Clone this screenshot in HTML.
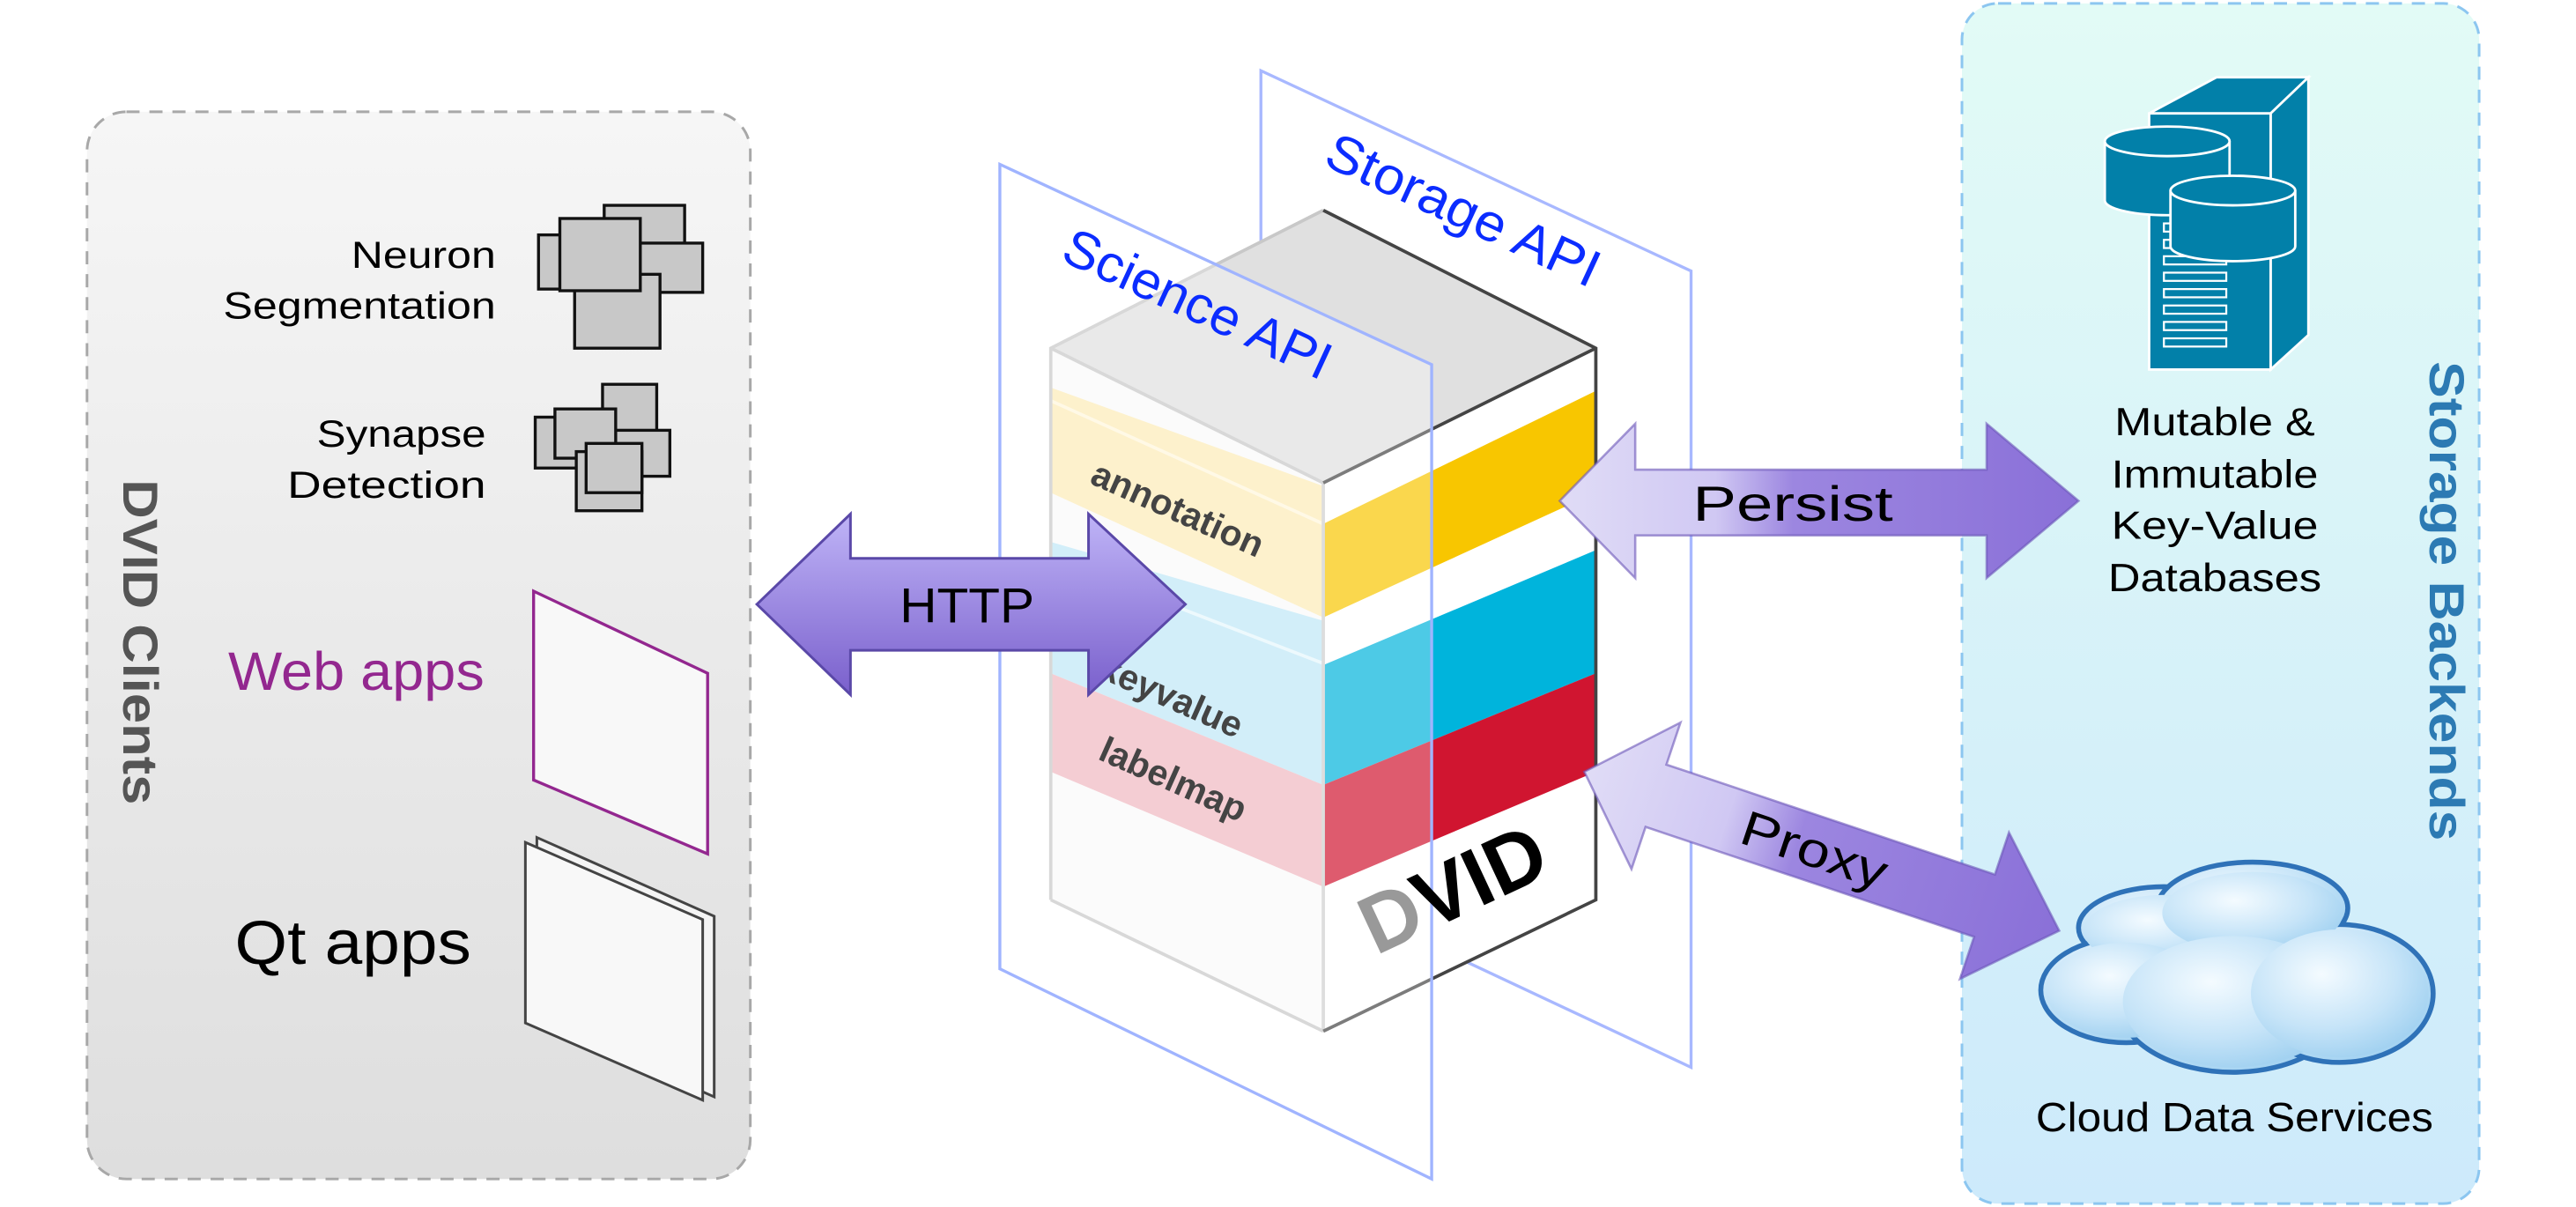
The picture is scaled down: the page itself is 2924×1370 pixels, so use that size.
<!DOCTYPE html>
<html><head><meta charset="utf-8"><style>
html,body{margin:0;padding:0;background:#fff;}
svg{display:block;font-family:"Liberation Sans",Arial,sans-serif;}
</style></head><body>
<svg width="2924" height="1370" viewBox="0 0 1569 735" xmlns="http://www.w3.org/2000/svg">
<defs>
<linearGradient id="gL" x1="0" y1="0" x2="0" y2="1"><stop offset="0" stop-color="#f6f6f6"/><stop offset="1" stop-color="#dedede"/></linearGradient>
<linearGradient id="gR" x1="0" y1="0" x2="0" y2="1"><stop offset="0" stop-color="#e2fbf6"/><stop offset="1" stop-color="#cdeafb"/></linearGradient>
<linearGradient id="gA" x1="0" y1="0" x2="0" y2="1"><stop offset="0" stop-color="#bfb4f7"/><stop offset="1" stop-color="#7a60cc"/></linearGradient>
<linearGradient id="gAf" x1="0" y1="0" x2="1" y2="0"><stop offset="0" stop-color="#e0dcf6"/><stop offset="0.3" stop-color="#d0c8f3"/><stop offset="0.45" stop-color="#9c86e0"/><stop offset="1" stop-color="#8a70d8"/></linearGradient>
<radialGradient id="gC" cx="0.4" cy="0.35" r="0.7"><stop offset="0" stop-color="#f4fbff"/><stop offset="0.6" stop-color="#c6e4f8"/><stop offset="1" stop-color="#9fd0f0"/></radialGradient>
</defs>

<rect x="53" y="68" width="404" height="650" rx="24" fill="url(#gL)" stroke="#a8a8a8" stroke-width="1.6" stroke-dasharray="8,6"/>
<text transform="translate(75,391) rotate(90)" text-anchor="middle" font-size="30" font-weight="bold" fill="#555" textLength="198" lengthAdjust="spacingAndGlyphs">DVID Clients</text>
<text x="302" y="163" text-anchor="end" font-size="23" textLength="88" lengthAdjust="spacingAndGlyphs">Neuron</text>
<text x="302" y="194" text-anchor="end" font-size="23" textLength="166" lengthAdjust="spacingAndGlyphs">Segmentation</text>
<g fill="#c8c8c8" stroke="#111" stroke-width="1.8">
<rect x="368" y="125" width="49" height="40"/>
<rect x="377" y="148" width="51" height="30"/>
<rect x="328" y="143" width="52" height="33"/>
<rect x="350" y="167" width="52" height="45"/>
<rect x="341" y="133" width="49" height="44"/>
</g>
<text x="296" y="272" text-anchor="end" font-size="23" textLength="103" lengthAdjust="spacingAndGlyphs">Synapse</text>
<text x="296" y="303" text-anchor="end" font-size="23" textLength="121" lengthAdjust="spacingAndGlyphs">Detection</text>
<g fill="#c8c8c8" stroke="#111" stroke-width="1.8">
<rect x="367" y="234" width="33" height="30"/>
<rect x="326" y="254" width="30" height="31"/>
<rect x="375" y="262" width="33" height="28"/>
<rect x="338" y="249" width="37" height="30"/>
<rect x="351" y="275" width="40" height="36"/>
<rect x="357" y="270" width="34" height="30"/>
</g>
<text x="295" y="420" text-anchor="end" font-size="33" fill="#93278f" textLength="156" lengthAdjust="spacingAndGlyphs">Web apps</text>
<polygon points="325,360 431,410 431,520 325,475" fill="#f8f8f8" stroke="#93278f" stroke-width="1.8"/>
<text x="287" y="587" text-anchor="end" font-size="38" textLength="144" lengthAdjust="spacingAndGlyphs">Qt apps</text>
<polygon points="327,510 435,558 435,668 327,620" fill="#f4f4f4" stroke="#444" stroke-width="1.6"/>
<polygon points="320,513 428,560 428,670 320,623" fill="#f8f8f8" stroke="#444" stroke-width="1.6"/>

<rect x="1195" y="2" width="315" height="731" rx="22" fill="url(#gR)" stroke="#8cc6f0" stroke-width="1.6" stroke-dasharray="8,6"/>
<text transform="translate(1480,366) rotate(90)" text-anchor="middle" font-size="30" font-weight="bold" fill="#2c7ab3" textLength="292" lengthAdjust="spacingAndGlyphs">Storage Backends</text>
<g fill="#0280a9" stroke="#fff" stroke-width="1.5">
<polygon points="1309,69 1350,47 1406,47 1383,69"/>
<polygon points="1383,69 1406,47 1406,204 1383,225"/>
<rect x="1309" y="69" width="74" height="156"/>
</g>
<g fill="none" stroke="#fff" stroke-width="1.2">
<rect x="1318" y="136" width="38" height="5"/>
<rect x="1318" y="146" width="38" height="5"/>
<rect x="1318" y="156" width="38" height="5"/>
<rect x="1318" y="166" width="38" height="5"/>
<rect x="1318" y="176" width="38" height="5"/>
<rect x="1318" y="186" width="38" height="5"/>
<rect x="1318" y="196" width="38" height="5"/>
<rect x="1318" y="206" width="38" height="5"/>
</g>
<g fill="#0280a9" stroke="#fff" stroke-width="1.5">
<path d="M1282,86 v36 a38,9 0 0 0 76,0 v-36"/>
<ellipse cx="1320" cy="86" rx="38" ry="9"/>
<path d="M1322,116 v34 a38,9 0 0 0 76,0 v-34"/>
<ellipse cx="1360" cy="116" rx="38" ry="9"/>
</g>
<g font-size="24" text-anchor="middle">
<text x="1349" y="265" textLength="122" lengthAdjust="spacingAndGlyphs">Mutable &amp;</text>
<text x="1349" y="297" textLength="126" lengthAdjust="spacingAndGlyphs">Immutable</text>
<text x="1349" y="328" textLength="126" lengthAdjust="spacingAndGlyphs">Key-Value</text>
<text x="1349" y="360" textLength="130" lengthAdjust="spacingAndGlyphs">Databases</text>
</g>
<g fill="url(#gC)" stroke="#2f72b8" stroke-width="3">
<ellipse cx="1318" cy="565" rx="52" ry="25"/>
<ellipse cx="1372" cy="553" rx="58" ry="28"/>
<ellipse cx="1295" cy="603" rx="52" ry="32"/>
<ellipse cx="1360" cy="610" rx="70" ry="43"/>
<ellipse cx="1425" cy="605" rx="57" ry="42"/>
</g>
<g fill="url(#gC)">
<ellipse cx="1318" cy="567" rx="49" ry="22"/>
<ellipse cx="1372" cy="556" rx="55" ry="25"/>
<ellipse cx="1295" cy="603" rx="49" ry="29"/>
<ellipse cx="1360" cy="610" rx="67" ry="40"/>
<ellipse cx="1425" cy="605" rx="54" ry="39"/>
</g>
<text x="1361" y="689" text-anchor="middle" font-size="25" textLength="242" lengthAdjust="spacingAndGlyphs">Cloud Data Services</text>

<polygon points="768,43 1030,165 1030,650 768,527" fill="none" stroke="#a8b8ff" stroke-width="1.8"/>
<text transform="translate(805,100) rotate(24.8)" font-size="32" fill="#0b2cff" textLength="180" lengthAdjust="spacingAndGlyphs">Storage API</text>

<polygon points="640,212 806,128 972,212 806,294" fill="#e0e0e0"/>
<polygon points="640,212 806,294 806,628 640,548" fill="#fafafa"/>
<polygon points="806,294 972,212 972,548 806,628" fill="#ffffff"/>
<polygon points="640,236 806,296 806,376 640,300" fill="#fcebb6"/>
<line x1="640" y1="244" x2="806" y2="319" stroke="#fff6dc" stroke-width="2"/>
<polygon points="806,319 972,238 972,300 806,376" fill="#f8c600"/>
<polygon points="640,330 806,378 806,478 640,410" fill="#bfe7f6"/>
<line x1="640" y1="340" x2="806" y2="404" stroke="#e6f6fc" stroke-width="2"/>
<polygon points="806,405 972,335 972,410 806,478" fill="#00b4dc"/>
<polygon points="640,410 806,478 806,540 640,470" fill="#f0b8c0"/>
<polygon points="806,478 972,410 972,470 806,540" fill="#d01530"/>
<line x1="806" y1="294" x2="806" y2="628" stroke="#cfcfcf" stroke-width="2"/>
<polyline points="640,548 640,212 806,128" fill="none" stroke="#c8c8c8" stroke-width="2"/>
<polyline points="640,212 806,294" fill="none" stroke="#c8c8c8" stroke-width="2"/>
<polyline points="640,548 806,628" fill="none" stroke="#c8c8c8" stroke-width="2"/>
<polyline points="806,128 972,212 972,548 806,628" fill="none" stroke="#444" stroke-width="2"/>
<line x1="806" y1="294" x2="972" y2="212" stroke="#444" stroke-width="2"/>

<polygon points="609,100 872,222 872,718 609,590" fill="#ffffff" fill-opacity="0.3" stroke="#a0b4ff" stroke-width="1.8"/>
<text transform="translate(645,158) rotate(24.8)" font-size="32" fill="#0b2cff" textLength="176" lengthAdjust="spacingAndGlyphs">Science API</text>
<text transform="translate(663,294) rotate(24)" font-size="22" font-weight="bold" fill="#444">annotation</text>
<text transform="translate(668,412) rotate(24)" font-size="22" font-weight="bold" fill="#444">keyvalue</text>
<text transform="translate(668,462) rotate(24)" font-size="22" font-weight="bold" fill="#444">labelmap</text>
<text transform="translate(838,582) rotate(-25)" font-size="50" font-weight="bold"><tspan fill="#999">D</tspan><tspan fill="#000">VID</tspan></text>

<polygon points="461,368 518,313 518,340 663,340 663,313 722,368 663,423 663,396 518,396 518,423" fill="url(#gA)" stroke="#5a48a8" stroke-width="1.6"/>
<text x="589" y="379" text-anchor="middle" font-size="30" textLength="82" lengthAdjust="spacingAndGlyphs">HTTP</text>

<polygon points="950,305 996,258 996,286 1210,286 1210,258 1266,305 1210,352 1210,326 996,326 996,352" fill="url(#gAf)" stroke="#6a55b8" stroke-width="1.4" stroke-opacity="0.6"/>
<text x="1092" y="317" text-anchor="middle" font-size="30" textLength="122" lengthAdjust="spacingAndGlyphs">Persist</text>

<g transform="translate(965,470) rotate(18.5)">
<polygon points="0,0 46,-47 46,-20 257,-20 257,-47 305,0 257,47 257,20 46,20 46,47" fill="url(#gAf)" stroke="#6a55b8" stroke-width="1.4" stroke-opacity="0.6"/>
<text x="148" y="11" text-anchor="middle" font-size="30" textLength="92" lengthAdjust="spacingAndGlyphs">Proxy</text>
</g>
</svg>
</body></html>
